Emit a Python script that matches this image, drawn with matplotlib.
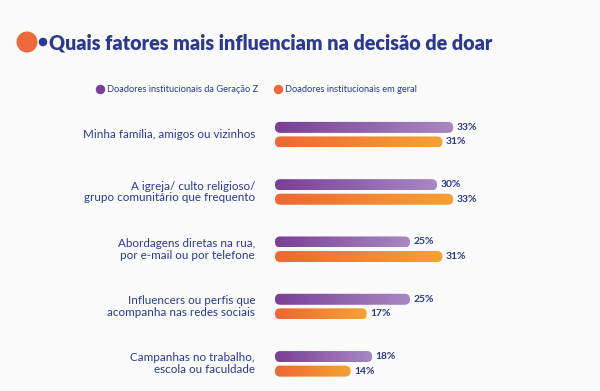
import matplotlib
matplotlib.use("Agg")
import matplotlib.pyplot as plt
import numpy as np
from matplotlib.patches import FancyBboxPatch, Circle
from matplotlib.colors import LinearSegmentedColormap
from matplotlib.lines import Line2D

categories = [
    "Minha família, amigos ou vizinhos",
    "A igreja/ culto religioso/\ngrupo comunitário que frequento",
    "Abordagens diretas na rua,\npor e-mail ou por telefone",
    "Influencers ou perfis que\nacompanha nas redes sociais",
    "Campanhas no trabalho,\nescola ou faculdade",
]
gen_z = [33, 30, 25, 25, 18]
geral = [31, 33, 31, 17, 14]
series_names = ["Doadores institucionais da Geração Z", "Doadores institucionais em geral"]
title = "Quais fatores mais influenciam na decisão de doar"

NAVY = "#2b3990"
BG = "#fbfbfb"
purple_cmap = LinearSegmentedColormap.from_list("p", ["#7a3f97", "#a888c2"])
orange_cmap = LinearSegmentedColormap.from_list("o", ["#ee6734", "#f6a234"])

W, H = 600, 391
fig = plt.figure(figsize=(6, 3.91), dpi=100, facecolor=BG)

# bar axes: x 0 at 275px, 5.4 px per unit; group spacing 57.3px
x0_px = 275
px_per_unit = 5.4
top_px = 106.0
ax = fig.add_axes([x0_px / W, 0, (W - x0_px) / W, (H - top_px) / H])
ax.set_facecolor(BG)
xmax = (W - x0_px) / px_per_unit
ymin_data = -0.5
ymax_data = -0.5 + (H - top_px) / 57.3

off = 0.127
bh = 0.192
aspect = (1 / 57.3) / (1 / px_per_unit)
rs = 5.3 / px_per_unit
grad = np.linspace(0, 1, 256).reshape(1, -1)

for i in range(len(categories)):
    for val, dy, cmap in [(gen_z[i], -off, purple_cmap), (geral[i], off, orange_cmap)]:
        y = i + dy
        patch = FancyBboxPatch((0, y - bh / 2), val, bh,
                               boxstyle=f"round,pad=0,rounding_size={rs}",
                               mutation_aspect=aspect, facecolor="none",
                               edgecolor="none", transform=ax.transData)
        ax.add_patch(patch)
        im = ax.imshow(grad, extent=(0, val, y + bh / 2, y - bh / 2), cmap=cmap,
                       aspect="auto", interpolation="bicubic", zorder=2)
        im.set_clip_path(patch)
        ax.text(val + 0.6, y, f"{val}%", va="center", ha="left", fontsize=7.4,
                fontweight="bold", color=NAVY, family="Lato")

ax.set_xlim(0, xmax)
ax.set_ylim(ymax_data, ymin_data)
ax.axis("off")

# category labels
for i, c in enumerate(categories):
    ax.text(-20 / px_per_unit, i, c, ha="right", va="center", fontsize=8.4,
            color=NAVY, family="Lato", linespacing=1.1)

# title
ax_t = fig.add_axes([0, 0, 1, 1], facecolor="none")
ax_t.set_xlim(0, W)
ax_t.set_ylim(H, 0)
ax_t.axis("off")
ax_t.add_patch(Circle((27, 42), 9.8, color="#ee6a3a", zorder=3))
ax_t.add_patch(Circle((43, 42), 3.6, color=NAVY, zorder=4))
ax_t.text(49, 43, title, ha="left", va="center", fontsize=14.2, fontweight="heavy",
          color=NAVY, family="Lato")

handles = [Line2D([], [], marker="o", ls="none", markersize=5.8, color="#7b3f98"),
           Line2D([], [], marker="o", ls="none", markersize=5.8, color="#ee6a35")]
fig.legend(handles, series_names, loc="center", bbox_to_anchor=(256 / W, 1 - 90 / H),
           ncol=2, frameon=False, handletextpad=0.25, columnspacing=1.6,
           handlelength=1.0, labelcolor=NAVY, prop={"family": "Lato", "size": 6.7})

fig.savefig("out.png", dpi=100, facecolor=BG)
